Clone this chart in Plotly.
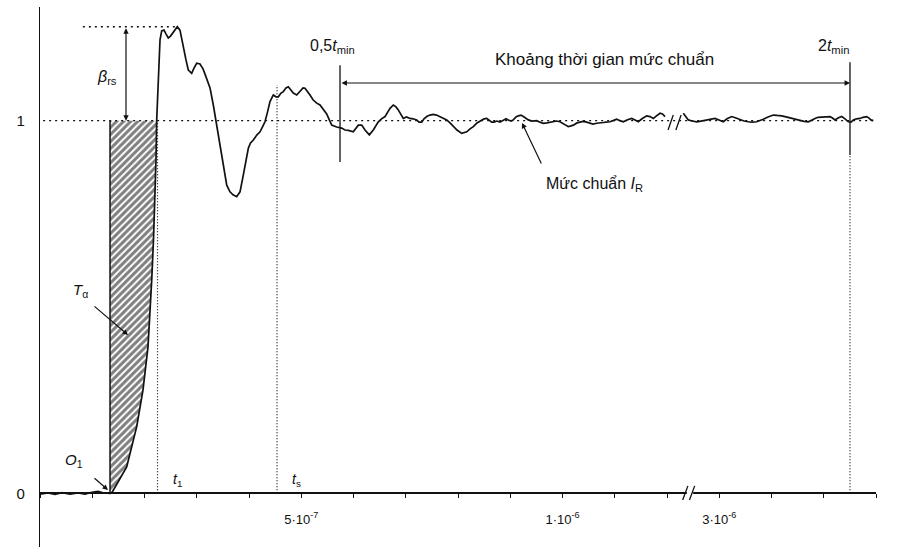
import plotly.graph_objects as go

# ---------------- data (t in axis divisions, g dimensionless) ----------------
major_ticks = [5, 10, 13]
major_text = ["5·10<sup>-7</sup>", "1·10<sup>-6</sup>", "3·10<sup>-6</sup>"]

t_curve = [0.0, 0.153, 0.287, 0.421, 0.574, 0.727, 0.861, 0.995, 1.110, 1.225, 1.340,
           1.372, 1.493, 1.659, 1.851, 1.971, 2.067, 2.105, 2.138, 2.172, 2.201, 2.220, 2.233,
           2.249, 2.268, 2.297, 2.329, 2.373, 2.411, 2.455, 2.498, 2.540, 2.584, 2.628, 2.679,
           2.742, 2.794, 2.838, 2.903, 2.947, 2.999, 3.062, 3.120, 3.158, 3.254, 3.317, 3.382,
           3.426, 3.478, 3.522, 3.574, 3.636, 3.694, 3.765, 3.828, 3.891, 3.943, 3.987, 4.029,
           4.083, 4.153, 4.211, 4.268, 4.306, 4.354, 4.402, 4.465, 4.517, 4.561, 4.613, 4.657,
           4.708, 4.752, 4.804, 4.848, 4.913, 4.976, 5.034, 5.072, 5.129, 5.167, 5.225, 5.296,
           5.359, 5.416, 5.487, 5.531, 5.583, 5.678, 5.774, 5.837, 5.901, 5.996, 6.048, 6.092,
           6.157, 6.220, 6.303, 6.379, 6.475, 6.536, 6.603, 6.660, 6.699, 6.762, 6.813, 6.857,
           6.909, 6.953, 7.014, 7.081, 7.139, 7.209, 7.254, 7.305, 7.349, 7.401, 7.464, 7.527,
           7.589, 7.656, 7.713, 7.784, 7.847, 7.910, 7.981, 8.071, 8.115, 8.167, 8.230, 8.293,
           8.364, 8.454, 8.498, 8.550, 8.593, 8.645, 8.689, 8.741, 8.804, 8.867, 8.919, 8.963,
           9.014, 9.058, 9.110, 9.154, 9.206, 9.250, 9.301, 9.346, 9.416, 9.506, 9.569, 9.633,
           9.704, 9.761, 9.824, 9.885, 9.952, 10.029, 10.111, 10.163, 10.207, 10.278, 10.335,
           10.392, 10.463, 10.526, 10.584, 10.655, 10.718, 10.781, 10.833, 10.909, 10.967,
           11.037, 11.100, 11.164, 11.234, 11.324, 11.388, 11.451, 11.522, 11.612, 11.675,
           11.738, 11.799, 11.866, 11.914, 11.962,
           None,
           12.312, 12.364, 12.408, 12.479, 12.569, 12.651, 12.760, 12.842, 12.919, 12.995,
           13.078, 13.149, 13.238, 13.321, 13.397, 13.474, 13.556, 13.627, 13.717, 13.780,
           13.843, 13.933, 14.035, 14.105, 14.195, 14.278, 14.387, 14.469, 14.545, 14.622,
           14.705, 14.766, 14.833, 14.890, 14.961, 15.043, 15.120, 15.167, 15.215, 15.273,
           15.344, 15.407, 15.470, 15.522, 15.566, 15.627, 15.694, 15.751, 15.822, 15.866,
           15.904, 15.948]

g_curve = [-0.002, 0.001, -0.003, 0.002, -0.002, 0.001, -0.002, 0.003, 0.005, 0.001, 0.000,
           0.001, 0.030, 0.071, 0.179, 0.277, 0.393, 0.484, 0.572, 0.680, 0.787, 0.895, 1.000,
           1.056, 1.136, 1.217, 1.241, 1.243, 1.233, 1.222, 1.227, 1.236, 1.246, 1.252, 1.243,
           1.195, 1.163, 1.136, 1.127, 1.141, 1.154, 1.152, 1.139, 1.125, 1.088, 1.042, 0.988,
           0.948, 0.908, 0.862, 0.827, 0.809, 0.801, 0.796, 0.809, 0.854, 0.895, 0.926, 0.940,
           0.948, 0.962, 0.970, 0.986, 0.997, 1.023, 1.051, 1.069, 1.064, 1.064, 1.074, 1.078,
           1.088, 1.091, 1.082, 1.074, 1.069, 1.078, 1.088, 1.087, 1.077, 1.069, 1.056, 1.047,
           1.042, 1.031, 1.018, 1.004, 0.988, 0.983, 0.980, 0.975, 0.974, 0.970, 0.980, 0.988,
           0.988, 0.975, 0.962, 0.975, 0.997, 1.005, 1.011, 1.026, 1.033, 1.042, 1.037, 1.029,
           1.015, 1.006, 1.010, 1.006, 1.005, 1.002, 0.996, 0.996, 1.005, 1.011, 1.015, 1.017,
           1.015, 1.011, 1.007, 1.002, 0.994, 0.984, 0.975, 0.966, 0.967, 0.970, 0.978, 0.984,
           0.994, 1.000, 1.005, 1.006, 1.002, 0.996, 0.996, 0.999, 0.996, 1.000, 1.005, 1.002,
           0.999, 1.002, 1.010, 1.013, 1.015, 1.011, 1.006, 1.002, 0.999, 1.000, 0.996, 0.993,
           0.994, 0.996, 0.997, 0.999, 0.997, 0.991, 0.984, 0.986, 0.988, 0.994, 0.996,
           0.998, 0.996, 0.994, 0.991, 0.993, 0.993, 0.995, 0.996, 0.997, 1.000,
           1.004, 1.000, 0.997, 1.002, 1.006, 1.002, 0.997, 1.005, 1.013, 1.011,
           1.006, 1.013, 1.020, 1.018, 1.011,
           None,
           1.020, 1.010, 1.002, 0.999, 0.997, 0.999, 1.002, 1.005, 1.006, 1.002,
           0.997, 1.005, 1.011, 1.007, 1.002, 0.999, 0.997, 0.996, 0.997, 1.000,
           1.004, 1.010, 1.015, 1.014, 1.013, 1.010, 1.006, 1.005, 1.002, 0.998,
           0.997, 1.002, 1.006, 1.009, 1.009, 1.010, 1.011, 1.007, 1.002, 1.007,
           1.011, 1.005, 0.997, 0.996, 1.002, 1.005, 1.006, 1.009, 1.011, 1.007,
           1.002, 1.000]

# characteristic instants / levels
t_O1 = 1.340
t_1 = 2.249
t_s = 4.536
t_half_min = 5.742
t_2min = 15.502
g_ref = 1.0
g_peak = 1.252

# ---------------- figure ----------------
INK = "#111111"
FONT = "Liberation Sans, Arial, sans-serif"
X_RANGE = [0, 16]
Y_RANGE = [-0.144, 1.305]

fig = go.Figure()

# hatched area T_alpha between O1 and the first crossing of the reference level
poly_t, poly_g = [t_O1, t_O1], [0.0, g_ref]
rise = [(a, b) for a, b in zip(t_curve, g_curve)
        if a is not None and t_O1 <= a <= t_1 and b <= g_ref + 1e-9]
for a, b in reversed(rise):
    poly_t.append(a)
    poly_g.append(b)
poly_t.append(t_O1)
poly_g.append(0.0)
fig.add_trace(go.Scatter(
    x=poly_t, y=poly_g, mode="lines", fill="toself",
    line=dict(color="rgba(0,0,0,0)", width=0),
    fillcolor="rgba(0,0,0,0)",
    fillpattern=dict(shape="/", size=5, solidity=0.6, fgcolor="#000000", bgcolor="white"),
    hoverinfo="skip", showlegend=False))
# solid left edge of the hatched area at O1
fig.add_trace(go.Scatter(x=[t_O1, t_O1], y=[0, g_ref], mode="lines",
                         line=dict(color=INK, width=1.5),
                         hoverinfo="skip", showlegend=False))

# reference level (dotted) and peak level
fig.add_trace(go.Scatter(x=[0.06, X_RANGE[1]], y=[g_ref, g_ref], mode="lines",
                         line=dict(color=INK, width=1.4, dash="2px,4px"),
                         hoverinfo="skip", showlegend=False))
fig.add_trace(go.Scatter(x=[0.82, 2.62], y=[g_peak, g_peak], mode="lines",
                         line=dict(color=INK, width=1.4, dash="2px,4px"),
                         hoverinfo="skip", showlegend=False))

# vertical markers
fig.add_trace(go.Scatter(x=[t_1, t_1], y=[0, g_ref], mode="lines",
                         line=dict(color=INK, width=1.2, dash="1px,2px"),
                         hoverinfo="skip", showlegend=False))
fig.add_trace(go.Scatter(x=[t_s, t_s], y=[0, 1.096], mode="lines",
                         line=dict(color=INK, width=1.2, dash="1px,2px"),
                         hoverinfo="skip", showlegend=False))
fig.add_trace(go.Scatter(x=[t_half_min, t_half_min], y=[0.889, 1.149], mode="lines",
                         line=dict(color=INK, width=1.3),
                         hoverinfo="skip", showlegend=False))
fig.add_trace(go.Scatter(x=[t_2min, t_2min], y=[0.908, 1.157], mode="lines",
                         line=dict(color=INK, width=1.3),
                         hoverinfo="skip", showlegend=False))
fig.add_trace(go.Scatter(x=[t_2min, t_2min], y=[0, 0.908], mode="lines",
                         line=dict(color=INK, width=1.2, dash="1px,2px"),
                         hoverinfo="skip", showlegend=False))

# response curve
fig.add_trace(go.Scatter(x=t_curve, y=g_curve, mode="lines",
                         line=dict(color=INK, width=1.7),
                         connectgaps=False, hoverinfo="skip", showlegend=False))

# break marks on the curve and on the axis
for dx in (0.0, 0.15):
    fig.add_shape(type="line", x0=12.02 + dx, y0=0.975, x1=12.12 + dx, y1=1.015,
                  line=dict(color=INK, width=1.3), layer="above")
fig.add_shape(type="rect", x0=12.38, x1=12.5, y0=-0.006, y1=0.006,
              line=dict(width=0), fillcolor="white", layer="above")
for dx in (0.0, 0.13):
    fig.add_shape(type="line", x0=12.30 + dx, y0=-0.018, x1=12.40 + dx, y1=0.020,
                  line=dict(color=INK, width=1.3), layer="above")


def arrow(x, y, ax, ay, both=False, size=0.9):
    fig.add_annotation(x=x, y=y, ax=ax, ay=ay, xref="x", yref="y", axref="x", ayref="y",
                       text="", showarrow=True, arrowhead=2, arrowsize=size, arrowwidth=1.2,
                       arrowcolor=INK, arrowside="end+start" if both else "end",
                       standoff=0, startstandoff=0)


def label(x, y, text, size=14):
    fig.add_annotation(x=x, y=y, xref="x", yref="y", text=text, showarrow=False,
                       font=dict(family=FONT, size=size, color=INK), xanchor="center",
                       yanchor="middle")


arrow(1.646, g_ref, 1.646, g_peak, both=True)
arrow(t_2min, 1.101, t_half_min, 1.101, both=True)
arrow(9.225, 0.994, 9.608, 0.881)
arrow(1.684, 0.425, 1.014, 0.505)
arrow(1.301, 0.009, 1.014, 0.044)

label(-0.35, 1.273, "<i>g</i>(<i>t</i>)", size=15)
label(1.29, 1.115, "<i>β</i><sub>rs</sub>", size=16)
label(0.77, 0.543, "<i>T</i><sub>α</sub>", size=15)
label(0.65, 0.087, "<i>O</i><sub>1</sub>", size=15)
label(2.63, 0.035, "<i>t</i><sub>1</sub>", size=14)
label(4.90, 0.035, "<i>t</i><sub>s</sub>", size=14)
label(5.60, 1.198, "0,5<i>t</i><sub>min</sub>", size=16)
label(15.18, 1.198, "2<i>t</i><sub>min</sub>", size=16)
label(10.81, 1.163, "Khoảng thời gian mức chuẩn", size=17)
label(10.62, 0.828, "Mức chuẩn <i>I</i><sub>R</sub>", size=16)
label(16.40, -0.045, "<i>t</i>", size=15)

fig.update_layout(
    width=902, height=551,
    margin=dict(l=40, r=26, t=7, b=4),
    paper_bgcolor="white", plot_bgcolor="white",
    font=dict(family=FONT, color=INK),
    xaxis=dict(range=X_RANGE, showgrid=False, zeroline=False,
               showline=True, linecolor=INK, linewidth=1.6,
               anchor="free", position=0.144 / 1.449,
               tickmode="array", tickvals=major_ticks, ticktext=major_text,
               ticks="outside", ticklen=4, tickwidth=1.3, tickcolor=INK,
               minor=dict(ticks="outside", ticklen=4, tickwidth=1.3, tickcolor=INK,
                          tickmode="linear", tick0=0, dtick=1),
               tickfont=dict(size=13, family=FONT, color=INK),
               ticklabelstandoff=10),
    yaxis=dict(range=Y_RANGE, showgrid=False, zeroline=False,
               showline=True, linecolor=INK, linewidth=1.3,
               tickmode="array", tickvals=[0, 1], ticktext=["0", "1"],
               ticks="", tickfont=dict(size=15, family=FONT, color=INK),
               ticklabelstandoff=11),
)

fig.write_html("out.html", config={"displayModeBar": False},
               post_script="document.body.style.margin='0px';")
